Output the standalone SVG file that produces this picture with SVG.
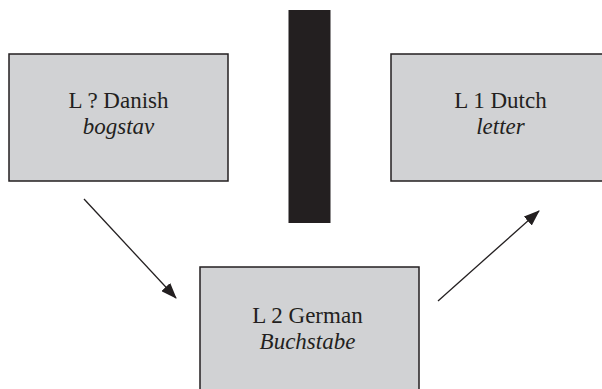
<svg xmlns="http://www.w3.org/2000/svg" width="602" height="389" viewBox="0 0 602 389">
<style>
.box{fill:#d1d2d4;stroke:#231f20;stroke-width:1.5}
.t{font-family:"Liberation Serif",serif;font-size:23px;fill:#231f20;text-anchor:middle}
.i{font-style:italic}
.c{stroke:#231f20;stroke-width:1.3;fill:none}
</style>
<defs>
<marker id="ah" markerWidth="16" markerHeight="12" refX="15" refY="6" orient="auto" markerUnits="userSpaceOnUse">
<path d="M0,0 L16,6 L0,12 Z" fill="#231f20"/>
</marker>
</defs>
<rect x="288.5" y="10" width="42" height="213" fill="#231f20"/>
<g id="danish">
<rect class="box" x="9" y="54" width="219" height="127"/>
<text class="t" x="118.5" y="108">L ? Danish</text>
<text class="t i" x="118.5" y="134">bogstav</text>
</g>
<g id="dutch">
<rect class="box" x="391" y="54" width="219" height="127"/>
<text class="t" x="500.5" y="108">L 1 Dutch</text>
<text class="t i" x="500.5" y="134">letter</text>
</g>
<g id="german">
<rect class="box" x="200" y="267" width="219" height="130"/>
<text class="t" x="307.5" y="323">L 2 German</text>
<text class="t i" x="307.5" y="349">Buchstabe</text>
</g>
<g id="connectors">
<line class="c" x1="84" y1="199" x2="176" y2="298" marker-end="url(#ah)"/>
<line class="c" x1="438" y1="301" x2="539" y2="211" marker-end="url(#ah)"/>
</g>
</svg>
